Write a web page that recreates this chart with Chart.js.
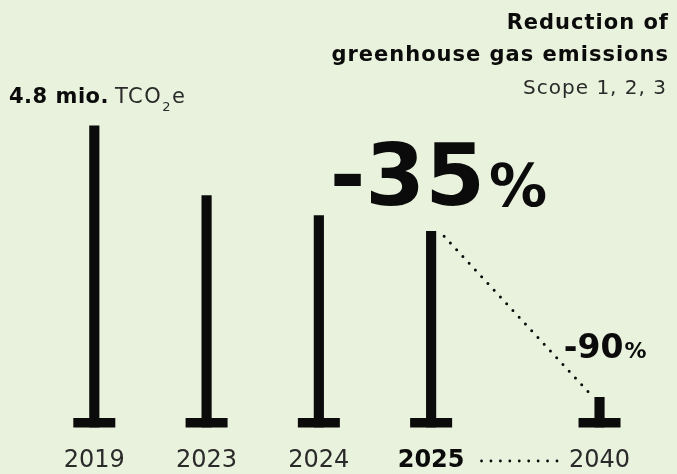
<!DOCTYPE html>
<html><head><meta charset="utf-8">
<script src="https://cdn.jsdelivr.net/npm/chart.js@4/dist/chart.umd.min.js"></script>
<style>html,body{margin:0;padding:0;background:#e9f2dc;}#wrap{width:677px;height:474px;position:relative}</style>
</head><body><div id="wrap"><canvas id="c" width="677" height="474"></canvas></div>
<script>
const categories = ['2019', '2023', '2024', '2025', '2040'];
const slots = [0, 1, 2, 3, 4.5];
const emissions = [4.8, 3.69, 3.37, 3.12, 0.48];
const highlightCategory = '2025';
const baseValueLabel = '4.8 mio.';
const unitText = ['TCO', '2', 'e'];
const titleLines = ['Reduction of', 'greenhouse gas emissions'];
const subtitle = 'Scope 1, 2, 3';
const reductions = [{ index: 3, num: '-35', pct: '%' }, { index: 4, num: '-90', pct: '%' }];

const FAM = '"DejaVu Sans"';
const INK = '#0b0b0b';
const LIGHT = 'normal';
const LIGHT_INK = '#2a2a2a';

const decor = {
  id: 'decor',
  afterDatasetsDraw(chart) {
    const ctx = chart.ctx;
    const meta = chart.getDatasetMeta(0);
    ctx.save();
    ctx.fillStyle = INK;
    meta.data.forEach(el => {
      ctx.fillRect(el.x - 21, el.base - 9.5, 42, 9.5);
    });
    const a = meta.data[3], b = meta.data[4];
    ctx.strokeStyle = INK;
    ctx.lineWidth = 3;
    ctx.lineCap = 'round';
    ctx.setLineDash([0, 9.2]);
    ctx.beginPath();
    ctx.moveTo(a.x + 13, a.y + 5);
    ctx.lineTo(b.x - 9, b.y - 3);
    ctx.stroke();
    ctx.restore();
  },
  afterDraw(chart) {
    const ctx = chart.ctx;
    const meta = chart.getDatasetMeta(0);
    const xs = chart.scales.x;
    ctx.save();
    ctx.fillStyle = INK;
    ctx.textBaseline = 'alphabetic';
    ctx.textAlign = 'right';
    ctx.letterSpacing = '1px';
    ctx.font = 'bold 21px ' + FAM;
    ctx.fillText(titleLines[0], 669, 29);
    ctx.fillText(titleLines[1], 669, 61);
    ctx.letterSpacing = '1px';
    ctx.fillStyle = LIGHT_INK;
    ctx.font = LIGHT + ' 20px ' + FAM;
    ctx.fillText(subtitle, 667, 94);
    ctx.textAlign = 'left';
    ctx.fillStyle = INK;
    ctx.letterSpacing = '0.5px';
    ctx.font = 'bold 21px ' + FAM;
    ctx.fillText(baseValueLabel, 9, 103);
    let x = 9 + ctx.measureText(baseValueLabel).width + 6;
    ctx.fillStyle = LIGHT_INK;
    ctx.letterSpacing = '1.5px';
    ctx.font = LIGHT + ' 21px ' + FAM;
    ctx.fillText(unitText[0], x, 103);
    x += ctx.measureText(unitText[0]).width;
    ctx.font = LIGHT + ' 13px ' + FAM;
    ctx.fillText(unitText[1], x, 111);
    x += ctx.measureText(unitText[1]).width;
    ctx.font = LIGHT + ' 21px ' + FAM;
    ctx.fillText(unitText[2], x, 103);
    ctx.letterSpacing = '0px';
    ctx.fillStyle = INK;
    const r1 = meta.data[reductions[0].index];
    ctx.textAlign = 'right';
    ctx.font = 'bold 58px ' + FAM;
    let pw = ctx.measureText(reductions[0].pct).width;
    ctx.fillText(reductions[0].pct, r1.x + 116, r1.y - 25);
    ctx.font = 'bold 86px ' + FAM;
    ctx.fillText(reductions[0].num, r1.x + 116 - pw - 4, r1.y - 26);
    const r2 = meta.data[reductions[1].index];
    ctx.font = 'bold 22px ' + FAM;
    pw = ctx.measureText(reductions[1].pct).width;
    ctx.fillText(reductions[1].pct, r2.x + 47, r2.y - 39);
    ctx.font = 'bold 33px ' + FAM;
    ctx.fillText(reductions[1].num, r2.x + 47 - pw - 1, r2.y - 39);
    ctx.font = 'bold 24px ' + FAM;
    const w1 = ctx.measureText(categories[3]).width;
    ctx.font = LIGHT + ' 24px ' + FAM;
    const w2 = ctx.measureText(categories[4]).width;
    const x1 = xs.getPixelForValue(slots[3]) + w1 / 2 + 17;
    const x2 = xs.getPixelForValue(slots[4]) - w2 / 2 - 12;
    ctx.strokeStyle = INK;
    ctx.lineWidth = 2.8;
    ctx.lineCap = 'round';
    ctx.setLineDash([0, (x2 - x1) / 8]);
    ctx.beginPath();
    ctx.moveTo(x1, chart.chartArea.bottom + 33.5);
    ctx.lineTo(x2 + 0.5, chart.chartArea.bottom + 33.5);
    ctx.stroke();
    ctx.restore();
  }
};

new Chart(document.getElementById('c'), {
  type: 'bar',
  data: {
    datasets: [{
      data: slots.map((s, i) => ({ x: s, y: emissions[i] })),
      backgroundColor: INK,
      borderWidth: 0,
      barThickness: 9.5
    }]
  },
  options: {
    responsive: false,
    animation: false,
    layout: { padding: 0 },
    plugins: { legend: { display: false }, tooltip: { enabled: false } },
    scales: {
      x: {
        type: 'linear',
        offset: false,
        bounds: 'ticks',
        min: -0.84,
        max: 5.19,
        grid: { display: false, drawTicks: false, tickLength: 0 },
        border: { display: false },
        afterBuildTicks: s => { s.ticks = slots.map(v => ({ value: v })); },
        afterFit: s => { s.height = 46.5; },
        ticks: {
          autoSkip: false,
          maxRotation: 0,
          padding: 18.5,
          color: c => categories[c.index] === highlightCategory ? INK : LIGHT_INK,
          callback: (v, i) => categories[i],
          font: c => ({ family: FAM, size: 24, weight: categories[c.index] === highlightCategory ? 'bold' : LIGHT })
        }
      },
      y: { display: false, min: 0, max: 6.8 }
    }
  },
  plugins: [decor]
});
</script>
</body></html>
